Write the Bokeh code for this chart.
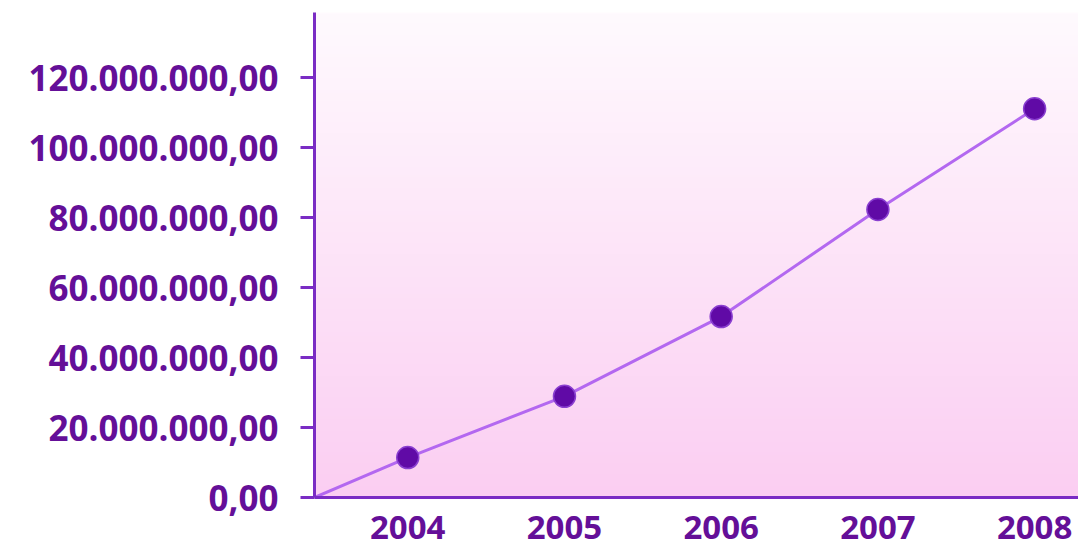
import numpy as np
from bokeh.plotting import figure
from bokeh.models import FixedTicker, CustomJSTickFormatter, Range1d
from bokeh.embed import file_html
from bokeh.resources import INLINE

# ---- data ----
years = [2004, 2005, 2006, 2007, 2008]
values = [11.4e6, 28.9e6, 51.7e6, 82.3e6, 111.1e6]
line_start_value = 0.0
y_ticks = [0, 20e6, 40e6, 60e6, 80e6, 100e6, 120e6]

TEXT = "#640f98"
AXIS = "#7a2cc4"

x_start, x_end = 2003.405, 2008.28
y_end = 138.6e6

p = figure(width=1078, height=550, output_backend="svg", toolbar_location=None,
           x_range=Range1d(x_start, x_end), y_range=Range1d(0, y_end),
           min_border_left=314, min_border_right=0, min_border_top=12, min_border_bottom=53)
p.outline_line_color = None
p.grid.grid_line_color = None
p.background_fill_color = "white"
p.border_fill_color = "white"

# gradient background (white top -> pink bottom)
n = 256
t = np.linspace(0, 1, n)[:, None]  # row 0 = bottom
top = np.array([255, 250, 254]); bot = np.array([251, 206, 242])
rgb = (bot * (1 - t) + top * t).astype(np.uint32)
img = np.empty((n, 1), dtype=np.uint32)
view = img.view(dtype=np.uint8).reshape((n, 1, 4))
view[:, :, 0] = rgb[:, 0:1]
view[:, :, 1] = rgb[:, 1:2]
view[:, :, 2] = rgb[:, 2:3]
view[:, :, 3] = 255
p.image_rgba(image=[img], x=x_start, y=0, dw=x_end - x_start, dh=y_end)

p.line([x_start] + years, [line_start_value] + values, line_color="#b368f0", line_width=3)
p.scatter(years, values, size=22, fill_color="#600aa6", line_color="#8a3fd0", line_width=1.5)

p.xaxis.ticker = FixedTicker(ticks=years)
p.yaxis.ticker = FixedTicker(ticks=y_ticks)
p.yaxis.formatter = CustomJSTickFormatter(code="""
var s = Math.round(tick).toString().replace(/\\B(?=(\\d{3})+(?!\\d))/g, ".");
return s + ",00";
""")
for ax in (p.xaxis, p.yaxis):
    ax.axis_line_color = AXIS
    ax.axis_line_width = 3
    ax.major_label_text_color = TEXT
    ax.major_label_text_font = "Open Sans"
    ax.major_label_text_font_style = "bold"
    ax.minor_tick_line_color = None
p.yaxis.major_label_text_font_size = "35px"
p.xaxis.major_label_text_font_size = "33px"
p.xaxis.major_tick_line_color = None
p.xaxis.major_label_standoff = 12
p.yaxis.major_tick_line_color = AXIS
p.yaxis.major_tick_line_width = 3
p.yaxis.major_tick_out = 14
p.yaxis.major_tick_in = 0
p.yaxis.major_label_standoff = 22

open("out.html", "w").write(file_html(p, INLINE))
